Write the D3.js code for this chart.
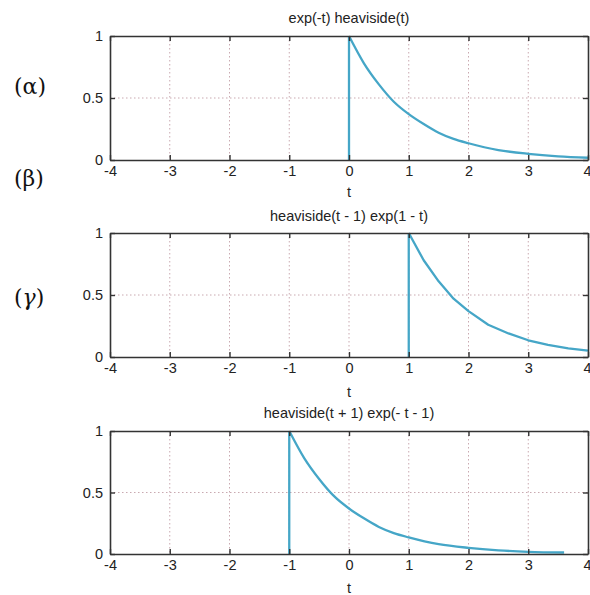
<!DOCTYPE html>
<html><head><meta charset="utf-8">
<script src="https://cdn.jsdelivr.net/npm/d3@7"></script>
<style>body{margin:0;background:#fff}</style>
</head><body>
<script>
const xTicks = [-4,-3,-2,-1,0,1,2,3,4];
const xTickLabels = ["-4","-3","-2","-1","0","1","2","3","4"];
const yTicks = [0,0.5,1];
const yTickLabels = ["0","0.5","1"];
const titles = ["exp(-t) heaviside(t)", "heaviside(t - 1) exp(1 - t)", "heaviside(t + 1) exp(- t - 1)"];
const sideLabels = ["(α)", "(β)", "(γ)"];

const t1 = [0, 0, 0.25, 0.5, 0.75, 1, 1.25, 1.5, 1.75, 2, 2.5, 3, 3.5, 4];
const v1 = [0, 1, 0.78, 0.61, 0.47, 0.37, 0.29, 0.22, 0.17, 0.135, 0.08, 0.05, 0.03, 0.018];
const t2 = [1, 1, 1.25, 1.5, 1.75, 2, 2.33, 2.67, 3, 3.33, 3.67, 4];
const v2 = [0, 1, 0.78, 0.61, 0.47, 0.37, 0.26, 0.19, 0.135, 0.097, 0.07, 0.052];
const t3 = [-1, -1, -0.75, -0.5, -0.25, 0, 0.25, 0.5, 0.75, 1, 1.5, 2, 2.5, 3, 3.6];
const v3 = [0, 1, 0.78, 0.61, 0.47, 0.37, 0.29, 0.22, 0.17, 0.135, 0.08, 0.05, 0.03, 0.018, 0.012];

const W = 590, H = 595;
const svg = d3.select("body").append("svg").attr("width", W).attr("height", H);

const panels = [
  {t: t1, v: v1, top: 36, bottom: 160, title: 23, xl: 197, smooth: true},
  {t: t2, v: v2, top: 233, bottom: 357, title: 221, xl: 397, smooth: false},
  {t: t3, v: v3, top: 431, bottom: 554, title: 418, xl: 593, smooth: true}
];
const x = d3.scaleLinear().domain([-4,4]).range([110, 588]);
const font = "'Liberation Sans', Arial, sans-serif";
const fs = 14.5;

panels.forEach((p, i) => {
  const y = d3.scaleLinear().domain([0,1]).range([p.bottom, p.top]);
  const g = svg.append("g");
  // grid
  g.selectAll(".gx").data(xTicks.slice(1,-1)).join("line")
    .attr("x1", d => x(d)).attr("x2", d => x(d)).attr("y1", p.top).attr("y2", p.bottom)
    .attr("stroke", "#c9a9b0").attr("stroke-width", 1).attr("stroke-dasharray", "1.5,2.5");
  g.selectAll(".gy").data([0.5]).join("line")
    .attr("x1", x(-4)).attr("x2", x(4)).attr("y1", d => y(d)).attr("y2", d => y(d))
    .attr("stroke", "#c9a9b0").attr("stroke-width", 1).attr("stroke-dasharray", "1.5,2.5");

  // curve: vertical step (first two points) + decaying part
  const pts = p.t.map((t, j) => [t, p.v[j]]);
  const lin = d3.line().x(d => x(d[0])).y(d => y(d[1]));
  const crv = d3.line().x(d => x(d[0])).y(d => y(d[1])).curve(p.smooth ? d3.curveMonotoneX : d3.curveLinear);
  const style = s => s.attr("fill", "none").attr("stroke", "#45a6c7").attr("stroke-width", 2.3)
    .attr("stroke-linejoin", "round").attr("stroke-linecap", "butt");
  g.append("path").datum(pts.slice(0, 2)).attr("d", lin).call(style);
  g.append("path").datum(pts.slice(1)).attr("d", crv).call(style);

  // axes
  const ax = (gen, tr) => {
    const a = g.append("g").attr("transform", tr).call(gen);
    a.select(".domain").attr("stroke", "#333").attr("stroke-width", 1.6);
    a.selectAll(".tick line").attr("stroke", "#333").attr("stroke-width", 1.4);
    a.selectAll("text").attr("font-family", font).attr("font-size", fs).attr("fill", "#222");
    return a;
  };
  const bx = ax(d3.axisBottom(x).tickValues(xTicks).tickSize(-5).tickSizeOuter(0).tickPadding(6)
      .tickFormat((d, j) => xTickLabels[j]), `translate(0,${p.bottom})`);
  bx.selectAll(".tick text").filter(d => d === 4).attr("text-anchor", "end").attr("dx", 3);
  ax(d3.axisTop(x).tickValues(xTicks).tickSize(-5).tickSizeOuter(0).tickFormat(""), `translate(0,${p.top})`);
  ax(d3.axisLeft(y).tickValues(yTicks).tickSize(-5).tickSizeOuter(0).tickPadding(7).tickFormat((d, j) => yTickLabels[j]), `translate(${x(-4)},0)`);
  ax(d3.axisRight(y).tickValues(yTicks).tickSize(-5).tickSizeOuter(0).tickFormat(""), `translate(${x(4)},0)`);

  // title and x label
  g.append("text").attr("x", x(0)).attr("y", p.title).attr("text-anchor", "middle")
    .attr("font-family", font).attr("font-size", fs).attr("fill", "#222").text(titles[i]);
  g.append("text").attr("x", x(0)).attr("y", p.xl).attr("text-anchor", "middle")
    .attr("font-family", font).attr("font-size", fs).attr("fill", "#222").text("t");
});

// side labels
const sideY = [94, 186, 305];
sideLabels.forEach((s, i) => {
  const t = svg.append("text").attr("x", 14).attr("y", sideY[i])
    .attr("font-family", "'DejaVu Serif', 'Liberation Serif', serif").attr("font-size", 22).attr("fill", "#111");
  t.append("tspan").text("(");
  t.append("tspan").attr("font-style", i === 2 ? "italic" : "normal").text(s[1]);
  t.append("tspan").text(")");
});
</script>
</body></html>
